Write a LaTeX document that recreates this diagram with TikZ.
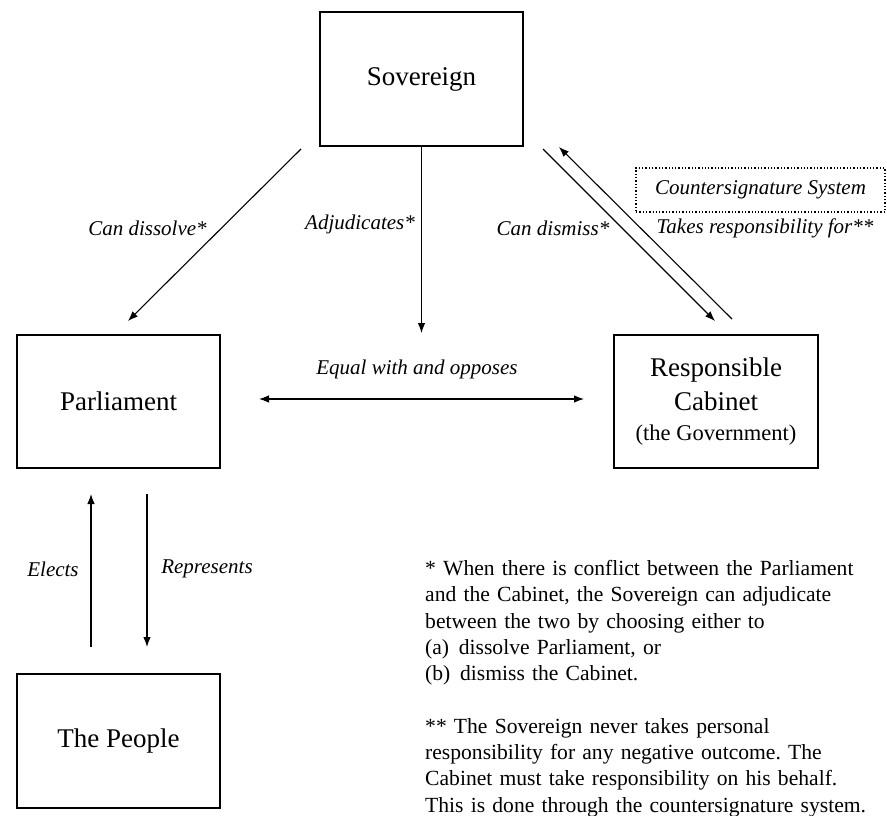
\documentclass[tikz,border=0pt]{standalone}
\usepackage{fontspec}
\setmainfont{Liberation Serif}
\usetikzlibrary{arrows.meta,calc}
\frenchspacing
\begin{document}
\begin{tikzpicture}[x=1pt,y=-1pt,
  box/.style={draw,line width=2pt,minimum width=203pt,minimum height=134pt,inner sep=0pt,
    font=\fontsize{27}{34}\selectfont,align=center},
  arr/.style={line width=1.1pt,-{Latex[length=10pt,width=7.5pt]}},
  biarr/.style={line width=1.1pt,{Latex[length=10pt,width=7.5pt]}-{Latex[length=10pt,width=7.5pt]}},
  lab/.style={font=\fontsize{21}{25}\selectfont\itshape,inner sep=0pt},
  note/.style={font=\fontsize{21.6}{26.3}\selectfont,inner sep=0pt,align=left,text width=470pt},
  ]
\useasboundingbox (0,0) rectangle (887,816);

\node[box] (sov) at (421.5,79) {Sovereign};
\node[box,minimum height=133pt] (par) at (118.5,401.5) {Parliament};
\node[box] (ppl) at (118.5,741) {The People};
\node[box,minimum width=204pt,minimum height=133pt] (cab) at (716,401.5)
  {Responsible\\Cabinet\\[-4pt]{\fontsize{22.5}{27}\selectfont(the Government)}};

\node[draw,dotted,line width=1.3pt,minimum width=249pt,minimum height=44pt,inner sep=0pt,
  font=\fontsize{21}{25}\selectfont\itshape] (cs) at (760.5,190) {Countersignature System};

% connectors
\draw[arr] ($(sov.south west)+(-18,2)$) -- ($(par.north)+(9.5,-13)$);
\draw[arr] (sov.south) -- ($(sov.south)+(0,186)$);
\draw[arr] ($(sov.south east)+(19,2)$) -- ($(cab.north)+(-1,-13)$);
\draw[arr] ($(cab.north)+(16,-15)$) -- ($(sov.south east)+(35,0)$);
\draw[biarr] ($(par.east)+(38,-2.5)$) -- ($(cab.west)+(-29,-2.5)$);
\draw[arr] ($(ppl.north)+(-27.5,-26)$) -- ($(par.south)+(-27.5,25)$);
\draw[arr] ($(par.south)+(28.5,25)$) -- ($(ppl.north)+(28.5,-26)$);

% labels
\node[lab] (l1) at (147.5,228) {Can dissolve*};
\node[lab] (l2) at (360,224) {Adjudicates*};
\node[lab] (l3) at (553,228) {Can dismiss*};
\node[lab] (l4) at (765,228) {Takes responsibility for**};
\node[lab] (l5) at (417,369) {Equal with and opposes};
\node[lab] (l6) at (53,569) {Elects};
\node[lab] (l7) at (207,569) {Represents};

\node[note,anchor=north west] (fn) at (425,560) {%
* When there is conflict between the Parliament\\
and the Cabinet, the Sovereign can adjudicate\\
between the two by choosing either to\\
(a)\hspace{0.45em}dissolve Parliament, or\\
(b)\hspace{0.45em}dismiss the Cabinet.\\[26.3pt]
** The Sovereign never takes personal\\
responsibility for any negative outcome. The\\
Cabinet must take responsibility on his behalf.\\
This is done through the countersignature system.};
\end{tikzpicture}
\end{document}
